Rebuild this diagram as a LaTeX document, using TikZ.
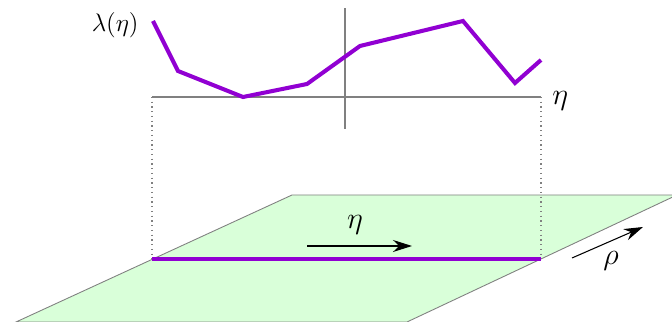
\documentclass[tikz,border=0pt]{standalone}
\usepackage{tikz}
\usetikzlibrary{arrows.meta}

\definecolor{curveviolet}{RGB}{145,0,210}
\definecolor{planegreen}{RGB}{217,255,217}

\begin{document}
\begin{tikzpicture}[line width=0.6pt,
  axis/.style={gray, line width=0.7pt},
  guide/.style={gray, dotted, line width=0.7pt},
  curve/.style={curveviolet, line width=2.3pt},
  dirarrow/.style={black, -{Stealth[length=3.8mm, width=2.4mm]}},
  lbl/.style={font=\Large},
  biglbl/.style={font=\fontsize{19}{22}\selectfont}]

\useasboundingbox (0,0) rectangle (13.44,6.44);

% plane
\begin{scope}
  \clip (0,0) rectangle (13.44,6.44);
  \coordinate (pBL) at ( 0.32, 0.00);
  \coordinate (pBR) at ( 8.14, 0.00);
  \coordinate (pTR) at (13.54, 2.54);
  \coordinate (pTL) at ( 5.84, 2.54);
  \fill[planegreen] (pBL) -- (pBR) -- (pTR) -- (pTL) -- cycle;
  \draw[gray, line width=0.5pt] (pBL) -- (pBR) -- (pTR) -- (pTL) -- cycle;
\end{scope}

% segment on the plane
\coordinate (sL) at ( 3.04, 1.26);
\coordinate (sR) at (10.82, 1.26);

% axes of lambda(eta)
\coordinate (aL) at ( 3.04, 4.50);
\coordinate (aR) at (10.82, 4.50);
\coordinate (aT) at ( 6.90, 6.28);
\coordinate (aB) at ( 6.90, 3.86);
\draw[axis] (aL) -- (aR);
\draw[axis] (aB) -- (aT);
\node[biglbl, anchor=west] (etaAx) at (10.92, 4.42) {$\eta$};
\node[lbl, anchor=east] (lam) at (2.90, 5.94) {$\lambda(\eta)$};

\draw[guide] (aL) -- (sL);
\draw[guide] (aR) -- (sR);

% lambda(eta)
\draw[curve, line join=miter]
  (3.06,6.02) -- (3.56,5.02) -- (4.86,4.50) -- (6.14,4.76)
  -- (7.20,5.52) -- (9.26,6.02) -- (10.30,4.78) -- (10.82,5.24);

\draw[curve, line width=2pt] (sL) -- (sR);

% directions
\coordinate (eS) at (6.14, 1.52);
\coordinate (eE) at (8.24, 1.52);
\draw[dirarrow] (eS) -- (eE);
\node[biglbl] (etaP) at (7.10, 1.94) {$\eta$};

\coordinate (rS) at (11.44, 1.28);
\coordinate (rE) at (12.86, 1.90);
\draw[dirarrow] (rS) -- (rE);
\node[biglbl] (rho) at (12.22, 1.22) {$\rho$};

\end{tikzpicture}
\end{document}
